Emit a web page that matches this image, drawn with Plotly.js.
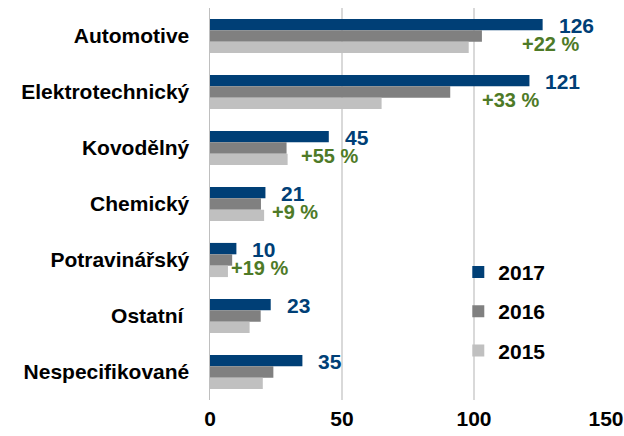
<!DOCTYPE html>
<html><head><meta charset="utf-8">
<script src="https://cdn.plot.ly/plotly-3.0.1.min.js"></script>
<style>html,body{margin:0;padding:0;background:#fff}#chart{width:624px;height:436px}</style>
</head><body><div id="chart"></div>
<script>
var categories = ["Automotive","Elektrotechnický","Kovodělný","Chemický","Potravinářský","Ostatní\u00a0","Nespecifikované"];
var years = ["2017","2016","2015"];
var v2017 = [126,121,45,21,10,23,35];
var v2016 = [103,91,29,19.3,8.4,19.2,24];
var v2015 = [98,65,29.4,20.5,6.8,15,20];
var growth = ["+22 %","+33 %","+55 %","+9 %","+19 %","",""];
var xTicks = [0,50,100,150];

var colors = ["#003F76","#808080","#C0C0C0"];
var pctShift = [38,30,12,9,-3,0,0];
var FONT = "Liberation Sans, Arial, sans-serif";

var series = [v2017,v2016,v2015];
var traces = series.map(function(vals,i){
  return {type:"bar",orientation:"h",name:years[i],x:vals,y:categories,
    marker:{color:colors[i]},legendgroup:years[i],hoverinfo:"none"};
});

var ann = [];
categories.forEach(function(c,i){
  ann.push({x:v2017[i],y:c,xref:"x",yref:"y",text:String(v2017[i]),showarrow:false,
    xanchor:"left",yanchor:"middle",xshift:14,yshift:11,
    font:{family:FONT,size:21,color:"#003F76",weight:"bold"}});
  if(growth[i]){
    ann.push({x:v2016[i],y:c,xref:"x",yref:"y",text:growth[i],showarrow:false,
      xanchor:"left",yanchor:"middle",xshift:pctShift[i],yshift:-8,
      font:{family:FONT,size:20,color:"#4E7A27",weight:"bold"}});
  }
});

var layout = {
  width:624,height:436,paper_bgcolor:"#fff",plot_bgcolor:"#fff",
  margin:{l:210,r:18,t:8,b:36},
  barmode:"group",bargap:0.39,bargroupgap:0,
  font:{family:FONT,size:21,color:"#000"},
  xaxis:{range:[0,150],tickvals:xTicks,showgrid:true,gridcolor:"#D9D9D9",gridwidth:1.5,
    zeroline:false,showline:false,ticks:"",ticklabelstandoff:4,
    tickfont:{family:FONT,size:21,color:"#000",weight:"bold"},fixedrange:true},
  yaxis:{autorange:"reversed",type:"category",showline:true,linecolor:"#BFBFBF",linewidth:1.5,
    showgrid:false,ticks:"",ticklabelstandoff:15,
    tickfont:{family:FONT,size:21,color:"#000",weight:"bold"},fixedrange:true},
  legend:{x:0.627,y:0.378,xanchor:"left",yanchor:"top",traceorder:"grouped",tracegroupgap:9,
    font:{family:FONT,size:21,color:"#000",weight:"bold"},bgcolor:"rgba(0,0,0,0)"},
  showlegend:true,
  annotations:ann
};
Plotly.newPlot("chart",traces,layout,{displayModeBar:false,staticPlot:true});
</script></body></html>
